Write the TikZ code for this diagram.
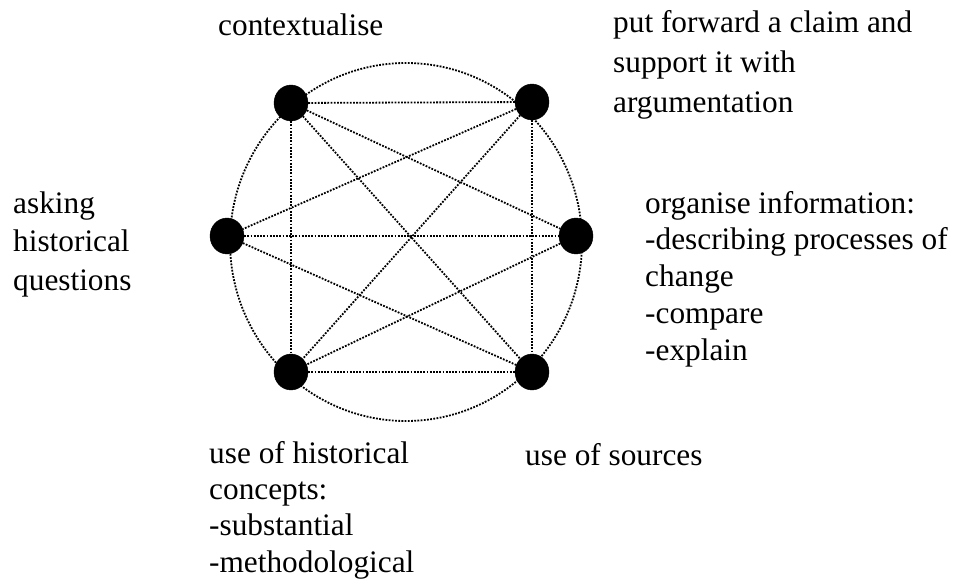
\documentclass[tikz,border=0pt]{standalone}
\usepackage{fontspec}
\setmainfont{Liberation Serif}
\usepackage{tikz}
\usetikzlibrary{shapes.geometric}

\tikzset{
  skill/.style={ellipse,fill=black,draw=black,minimum width=34pt,minimum height=36pt,inner sep=0pt},
  link/.style={line width=1.8pt,dash pattern=on 1.8pt off 1.4pt},
  label/.style={anchor=base west,inner sep=0pt,align=left}
}

\begin{document}
\begin{tikzpicture}[x=1pt,y=-1pt]
    \useasboundingbox (0,0) rectangle (957,581);
    \draw[link] (406,242) ellipse [x radius=176,y radius=179];
    \node[skill] (ctx) at (291,103) {};
    \node[skill] (claim) at (532,102) {};
    \node[skill] (ask) at (227,236) {};
    \node[skill] (org) at (576,236) {};
    \node[skill] (concepts) at (291,372) {};
    \node[skill] (sources) at (532,372) {};
    \foreach \a/\b in {ctx/claim,ctx/concepts,ctx/org,ctx/sources,claim/ask,claim/concepts,
      claim/sources,ask/org,ask/sources,org/concepts,concepts/sources}
      \draw[link] (\a) -- (\b);
    % multi-line labels are placed by the baseline of their last line
    \node[label,font={\fontsize{31.3}{40}\selectfont}] (ctxtext) at (218,35) {contextualise};
    \node[label,font={\fontsize{31.3}{40}\selectfont}] (claimtext) at (613,112)
      {put forward a claim and\\support it with\\argumentation};
    \node[label,font={\fontsize{31.3}{38.5}\selectfont}] (asktext) at (13,290)
      {asking\\historical\\questions};
    \node[label,font={\fontsize{31.3}{36.75}\selectfont}] (orgtext) at (645,360)
      {organise information:\\-describing processes of\\change\\-compare\\-explain};
    \node[label,font={\fontsize{31.3}{36.3}\selectfont}] (conceptstext) at (209,572)
      {use of historical\\concepts:\\-substantial\\-methodological};
    \node[label,font={\fontsize{31.3}{40}\selectfont}] (sourcestext) at (525,465) {use of sources};
\end{tikzpicture}
\end{document}
